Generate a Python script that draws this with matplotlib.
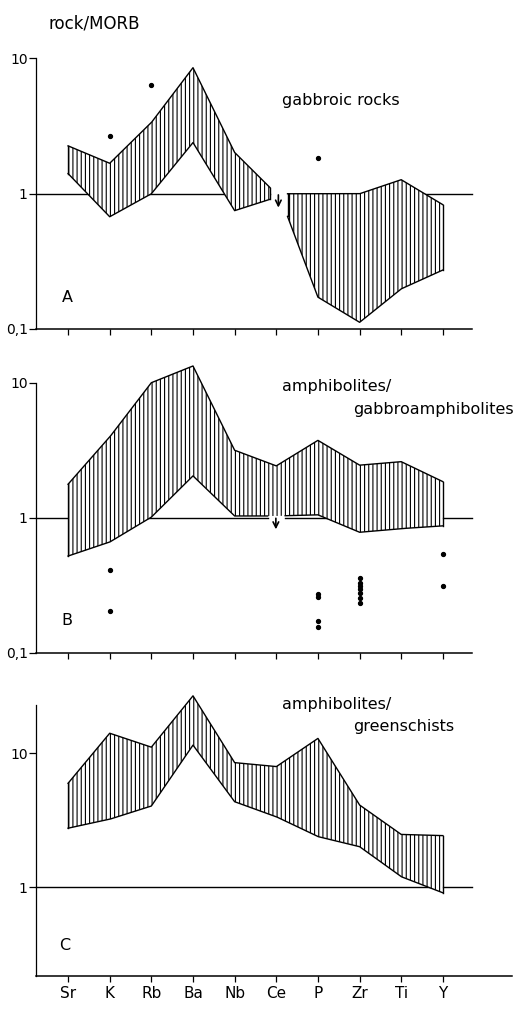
import matplotlib

matplotlib.use("Agg")
import matplotlib.pyplot as plt
import numpy as np
from matplotlib.ticker import FixedLocator, NullLocator

plt.rcParams["font.family"] = ["DejaVu Sans"]
plt.rcParams["hatch.linewidth"] = 0.8

elements = ["Sr", "K", "Rb", "Ba", "Nb", "Ce", "P", "Zr", "Ti", "Y"]

# panel A: gabbroic rocks, band split at Ce (Ce below detection)
a1_x = [0, 1, 2, 3, 4, 4.85]
a1_upper = [2.26, 1.68, 3.36, 8.55, 2.02, 1.11]
a1_lower = [1.41, 0.676, 1.0, 2.39, 0.75, 0.91]
a2_x = [5.27, 6, 7, 8, 9]
a2_upper = [1.0, 1.0, 1.0, 1.27, 0.83]
a2_lower = [0.68, 0.172, 0.112, 0.198, 0.273]
a_dots_x = [1, 2, 6]
a_dots_y = [2.68, 6.33, 1.85]

# panel B: amphibolites / gabbroamphibolites
b_x = list(range(10))
b_upper = [1.77, 3.96, 10.0, 13.3, 3.16, 2.42, 3.74, 2.45, 2.6, 1.85]
b_lower = [0.52, 0.66, 1.01, 2.04, 1.03, 1.03, 1.05, 0.78, 0.83, 0.87]
b_dots_x = [1, 1, 6, 6, 6, 6, 7, 7, 7, 7, 7, 7, 7, 9, 9]
b_dots_y = [0.41, 0.204, 0.27, 0.26, 0.172, 0.156,
            0.356, 0.33, 0.31, 0.295, 0.278, 0.255, 0.235, 0.54, 0.31]

# panel C: amphibolites / greenschists
c_x = list(range(10))
c_upper = [5.97, 14.1, 11.1, 26.8, 8.51, 7.94, 12.9, 4.11, 2.48, 2.43]
c_lower = [2.76, 3.22, 4.04, 11.5, 4.35, 3.36, 2.39, 2.01, 1.2, 0.91]

W, H = 525, 1009
XMIN, XMAX = -0.77, 9.7
TXT = 11.5


def px_axes(left, top, right, bottom):
    return [left / W, 1 - bottom / H, (right - left) / W, (bottom - top) / H]


def edge(ax, x, y, gap=None):
    xs = np.union1d(np.linspace(x[0], x[-1], 600), x)
    ys = 10 ** np.interp(xs, x, np.log10(y))
    if gap is not None:
        ys[np.abs(xs - gap[0]) < gap[1]] = np.nan
    ax.plot(xs, ys, color="black", lw=1.0, zorder=3, clip_on=False)


def band(ax, x, lo, hi, lo_gap=None):
    ax.fill_between(x, lo, hi, facecolor="white", edgecolor="black", hatch="||||",
                    linewidth=0, zorder=2, clip_on=False)
    edge(ax, x, hi)
    edge(ax, x, lo, lo_gap)
    for i in (0, -1):
        ax.plot([x[i], x[i]], [lo[i], hi[i]], color="black", lw=1.0, zorder=3, clip_on=False)


def unity(ax, pieces):
    for x0, x1 in pieces:
        ax.plot([x0, x1], [1, 1], color="black", lw=1.0, zorder=1, clip_on=False)


def down_arrow(ax, x, y0, y1):
    ax.annotate("", xy=(x, y1), xytext=(x, y0), zorder=4,
                arrowprops=dict(arrowstyle="->", lw=1.2, color="black", mutation_scale=10,
                                shrinkA=0, shrinkB=0))


def style(ax, ylim, yticks, ylabels, xlabels, xmax=XMAX):
    ax.set_yscale("log")
    ax.set_xlim(XMIN, xmax)
    ax.set_ylim(*ylim)
    for s in ("top", "right"):
        ax.spines[s].set_visible(False)
    ax.spines["left"].set_linewidth(0.9)
    ax.spines["bottom"].set_linewidth(1.1)
    ax.yaxis.set_major_locator(FixedLocator(yticks))
    ax.yaxis.set_minor_locator(NullLocator())
    ax.set_yticklabels(ylabels)
    ax.set_xticks(range(10))
    ax.set_xticklabels(elements if xlabels else [])
    ax.tick_params(axis="y", direction="out", length=5, width=0.9, pad=1, labelsize=10)
    ax.tick_params(axis="x", direction="out", length=4, width=0.9, pad=3, labelsize=11)


fig = plt.figure(figsize=(W / 100, H / 100), dpi=100)
axA = fig.add_axes(px_axes(36, 58.5, 472, 329))
axB = fig.add_axes(px_axes(36, 382.7, 472, 652.7))
axC = fig.add_axes(px_axes(36, 705, 512, 976))

# A
style(axA, (0.1, 10), [0.1, 1, 10], ["0,1", "1", "10"], False)
unity(axA, [(XMIN, 4.85), (5.27, XMAX)])
band(axA, a1_x, a1_lower, a1_upper)
band(axA, a2_x, a2_lower, a2_upper)
axA.plot(a_dots_x, a_dots_y, "o", color="black", ms=2.8, zorder=4)
down_arrow(axA, 5.05, 0.98, 0.79)
axA.text(5.14, 4.86, "gabbroic rocks", fontsize=TXT, va="center", ha="left")
axA.text(-0.02, 0.171, "A", fontsize=TXT, va="center", ha="center")

# B
style(axB, (0.1, 10), [0.1, 1, 10], ["0,1", "1", "10"], False)
unity(axB, [(XMIN, 4.8), (5.2, XMAX)])
band(axB, b_x, b_lower, b_upper, lo_gap=(5.0, 0.2))
axB.plot(b_dots_x, b_dots_y, "o", color="black", ms=2.8, zorder=4)
down_arrow(axB, 4.99, 0.99, 0.82)
axB.text(5.14, 9.3, "amphibolites/", fontsize=TXT, va="center", ha="left")
axB.text(6.84, 6.38, "gabbroamphibolites", fontsize=TXT, va="center", ha="left")
axB.text(-0.02, 0.172, "B", fontsize=TXT, va="center", ha="center")

# C
style(axC, (0.218, 22.9), [1, 10], ["1", "10"], True, xmax=10.66)
unity(axC, [(XMIN, XMAX)])
band(axC, c_x, c_lower, c_upper)
axC.text(5.14, 22.9, "amphibolites/", fontsize=TXT, va="center", ha="left")
axC.text(6.84, 15.7, "greenschists", fontsize=TXT, va="center", ha="left")
axC.text(-0.07, 0.365, "C", fontsize=TXT, va="center", ha="center")

fig.text(48 / W, 1 - 23 / H, "rock/MORB", fontsize=12, va="center", ha="left")

fig.savefig("out.png", dpi=100)
